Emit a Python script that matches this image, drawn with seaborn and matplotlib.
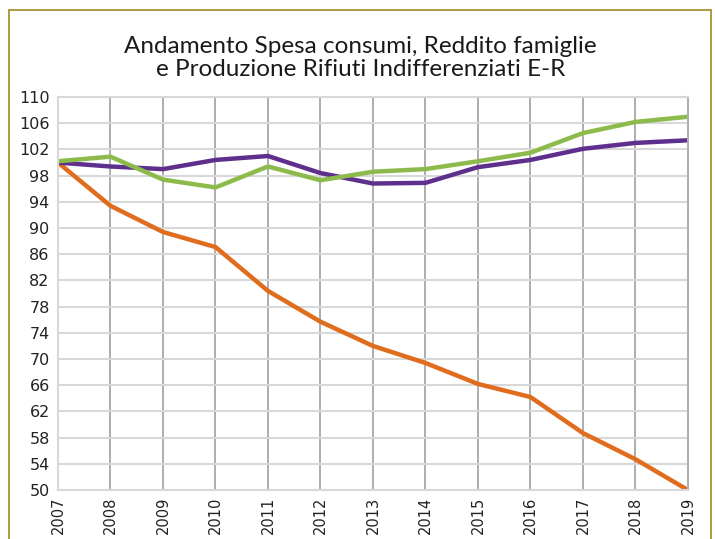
import numpy as np
import pandas as pd
import seaborn as sns
import matplotlib.pyplot as plt
from matplotlib.lines import Line2D

anni = [2007, 2008, 2009, 2010, 2011, 2012, 2013, 2014, 2015, 2016, 2017, 2018, 2019]
spesa_consumi = [100.2, 100.9, 97.4, 96.2, 99.4, 97.3, 98.6, 99.0, 100.2, 101.5, 104.5, 106.2, 107.0]
reddito_famiglie = [100.0, 99.4, 99.0, 100.4, 101.0, 98.4, 96.8, 96.9, 99.3, 100.4, 102.1, 103.0, 103.4]
rifiuti_indiff = [100.0, 93.4, 89.4, 87.1, 80.4, 75.7, 72.0, 69.4, 66.2, 64.2, 58.7, 54.7, 50.0]
y_ticks = list(range(50, 111, 4))

sns.set_style('white')
plt.rcParams['font.family'] = ['DejaVu Sans']

fig = plt.figure(figsize=(7.15, 5.39), dpi=100)
ax = fig.add_axes([0.0811, 0.0909, 0.881, 0.729])

df = pd.DataFrame({'anno': anni, 'spesa': spesa_consumi,
                   'reddito': reddito_famiglie, 'rifiuti': rifiuti_indiff})
sns.lineplot(data=df, x='anno', y='rifiuti', color='#e06c1e', linewidth=3.2, ax=ax)
sns.lineplot(data=df, x='anno', y='reddito', color='#5e2f8c', linewidth=3.2, ax=ax)
sns.lineplot(data=df, x='anno', y='spesa', color='#8cbb4c', linewidth=3.2, ax=ax)

ax.set_xlim(2007, 2019)
ax.set_ylim(50, 110)
ax.set_xticks(anni)
ax.set_xticklabels([str(a) for a in anni], rotation=90, fontsize=10.5, color='#222222')
ax.set_yticks(y_ticks)
ax.set_yticklabels([str(v) for v in y_ticks], fontsize=11.5, color='#222222')
ax.set_xlabel('')
ax.set_ylabel('')
ax.tick_params(axis='y', length=0, pad=6)
ax.tick_params(axis='x', length=0, pad=5)
ax.yaxis.grid(True, color='#d8d8d8', linewidth=1.5)
ax.xaxis.grid(True, color='#a0a0a0', linewidth=1.2)
ax.set_axisbelow(True)
for s in ['left', 'bottom', 'right', 'top']:
    ax.spines[s].set_visible(True)
    ax.spines[s].set_color('#d8d8d8')
    ax.spines[s].set_linewidth(1.5)
ax.spines['right'].set_color('#b0b0b0')

fig.text(0.504, 0.893, 'Andamento Spesa consumi, Reddito famiglie\ne Produzione Rifiuti Indifferenziati E-R',
         ha='center', va='center', fontsize=17.5, family=['Lato', 'DejaVu Sans'],
         fontweight='normal', color='#1a1a1a', linespacing=1.1)

# cornice
col = '#9c8a2a'
fig.add_artist(Line2D([0.0126, 0.0126], [0, 0.9815], color=col, lw=1.2, transform=fig.transFigure))
fig.add_artist(Line2D([0.0126, 0.9945], [0.9815, 0.9815], color=col, lw=1.2, transform=fig.transFigure))
fig.add_artist(Line2D([0.9945, 0.9945], [0, 0.9815], color=col, lw=1.2, transform=fig.transFigure))

plt.savefig('out.png', dpi=100)
